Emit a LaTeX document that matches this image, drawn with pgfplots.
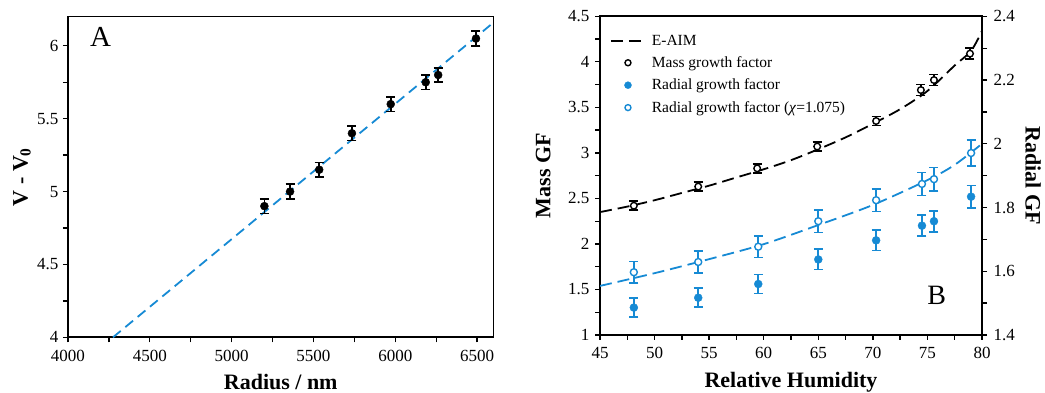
\documentclass[border=0pt]{standalone}
\usepackage{pgfplots}
\pgfplotsset{compat=1.18}
\usepackage{fontspec}
\setmainfont{Liberation Serif}
\definecolor{eblue}{RGB}{22,138,212}
\begin{document}
\begin{tikzpicture}
\path[use as bounding box] (0pt,0pt) rectangle (1045pt,393pt);
\pgfplotsset{
 every axis/.append style={
  scale only axis, axis line style={line width=1.6pt},
  tick style={line width=1.3pt, black}, tick align=outside,
  major tick length=5pt, minor tick length=5pt,
  tick label style={font=\fontsize{17}{17}\selectfont},
  xticklabel style={yshift=-4pt},
  label style={font=\bfseries\fontsize{22}{22}\selectfont},
  /pgf/number format/assume math mode=true,
 },
 ebar/.style={error bars/.cd, y dir=both, y explicit,
   error bar style={line width=1.6pt},
   error mark options={rotate=90, mark size=4.5pt, line width=1.6pt}, /pgfplots/.cd},
}
% ---------------- Panel A ----------------
\begin{axis}[at={(68pt,55.7pt)}, anchor=south west, width=425.5pt, height=320.6pt,
 xmin=4000, xmax=6600, ymin=4, ymax=6.2,
 xtick={4000,4500,5000,5500,6000,6500}, ytick={4,4.5,5,5.5,6},
 minor x tick num=1, minor y tick num=1,
 xtick pos=bottom, ytick pos=left,
 yticklabel style={xshift=-1pt},
 scaled ticks=false, /pgf/number format/1000 sep={},
 xlabel={Radius / nm}, ylabel={V - V\textsubscript{0}},
 xlabel style={at={(axis description cs:0.5,-0.139)}, anchor=center},
 ylabel style={at={(axis description cs:-0.108,0.5)}, anchor=center},
 clip=true]
\addplot[eblue, line width=1.8pt, dash pattern=on 10pt off 6pt] coordinates {(4275,4.0) (6600,6.16)};
\addplot[black, only marks, mark=*, mark size=4pt, ebar] table[x=x, y=y, y error=e] {
x y e
5200 4.90 0.05
5357 5.00 0.05
5535 5.15 0.05
5735 5.40 0.05
5972 5.60 0.05
6186 5.75 0.05
6262 5.80 0.05
6493 6.05 0.05
};
\node[font=\fontsize{29}{29}\selectfont] at (axis cs:4199,6.058) {A};
\end{axis}
% ---------------- Panel B (left axis) ----------------
\begin{axis}[at={(600pt,58pt)}, anchor=south west, width=382pt, height=318.7pt,
 xmin=45, xmax=80, ymin=1, ymax=4.5,
 xtick={45,50,55,60,65,70,75,80}, ytick={1,1.5,2,2.5,3,3.5,4,4.5},
 minor x tick num=1, minor y tick num=1,
 xtick pos=bottom, ytick pos=left,
 yticklabel style={xshift=-2pt},
 xlabel={Relative Humidity}, ylabel={Mass GF},
 xlabel style={at={(axis description cs:0.5,-0.148)}, anchor=center},
 ylabel style={at={(axis description cs:-0.149,0.5)}, anchor=center}]
\addplot[black, line width=1.8pt, dash pattern=on 12pt off 6pt, smooth] coordinates {
(45,2.35) (47.5,2.41) (50,2.48) (52.5,2.56) (55,2.64) (57.5,2.73) (60,2.82) (62.5,2.92)
(65,3.04) (67.5,3.17) (70,3.32) (72.5,3.48) (75,3.68) (77.5,3.96) (79,4.12) (80,4.34)};
\addplot[black, only marks, mark=*, mark size=3.3pt, mark options={fill=white, line width=1.4pt}, ebar] table[x=x, y=y, y error=e] {
x y e
48.1 2.42 0.05
54.0 2.63 0.05
59.4 2.83 0.05
64.9 3.07 0.05
70.3 3.35 0.05
74.4 3.69 0.06
75.6 3.80 0.06
78.9 4.09 0.06
};
\node[font=\fontsize{28}{28}\selectfont] at (axis cs:75.86,1.432) {B};
\end{axis}
% ---------------- Panel B (right axis) ----------------
\begin{axis}[at={(600pt,58pt)}, anchor=south west, width=382pt, height=318.7pt,
 xmin=45, xmax=80, ymin=1.4, ymax=2.4,
 axis x line=none, axis y line*=right,
 ytick={1.4,1.6,1.8,2,2.2,2.4}, minor y tick num=1,
 yticklabel style={xshift=3pt},
 ylabel={Radial GF},
 ylabel style={at={(axis description cs:1.134,0.5)}, anchor=center, rotate=180},
 legend cell align=left,
 legend style={draw=none, fill=none, at={(axis description cs:0.018,0.955)}, anchor=north west,
   font=\fontsize{15.5}{15.5}\selectfont, row sep=6pt,
   /tikz/every odd column/.append style={column sep=4pt}},
 legend image code/.code={\draw[mark repeat=2, mark phase=2, #1] plot coordinates {(0pt,0pt) (17pt,0pt) (34pt,0pt)};}]
\addlegendimage{black, line width=1.8pt, dash pattern=on 12pt off 6pt}
\addlegendentry{E-AIM}
\addlegendimage{black, only marks, mark=*, mark size=3pt, mark options={fill=white, line width=1.4pt}}
\addlegendentry{Mass growth factor}
\addlegendimage{eblue, only marks, mark=*, mark size=3.5pt}
\addlegendentry{Radial growth factor}
\addlegendimage{eblue, only marks, mark=*, mark size=3pt, mark options={fill=white, line width=1.4pt}}
\addlegendentry{Radial growth factor (\textit{χ}=1.075)}
\addplot[eblue, line width=1.8pt, dash pattern=on 12pt off 6pt, smooth, forget plot] coordinates {
(45,1.554) (50,1.594) (55,1.638) (60,1.685) (65,1.745) (70,1.808) (75,1.886) (77.5,1.934) (80,2.0)};
\addplot[eblue, only marks, mark=*, mark size=4pt, ebar, forget plot] table[x=x, y=y, y error=e] {
x y e
48.1 1.486 0.030
54.0 1.517 0.030
59.5 1.560 0.030
65.0 1.637 0.032
70.3 1.697 0.032
74.5 1.743 0.033
75.6 1.757 0.033
79.0 1.834 0.035
};
\addplot[eblue, only marks, mark=*, mark size=3.5pt, mark options={fill=white, line width=1.4pt}, ebar, forget plot] table[x=x, y=y, y error=e] {
x y e
48.1 1.597 0.034
54.0 1.629 0.034
59.5 1.677 0.034
65.0 1.757 0.035
70.3 1.823 0.036
74.5 1.874 0.036
75.6 1.889 0.037
79.0 1.971 0.040
};
\end{axis}
\end{tikzpicture}
\end{document}
